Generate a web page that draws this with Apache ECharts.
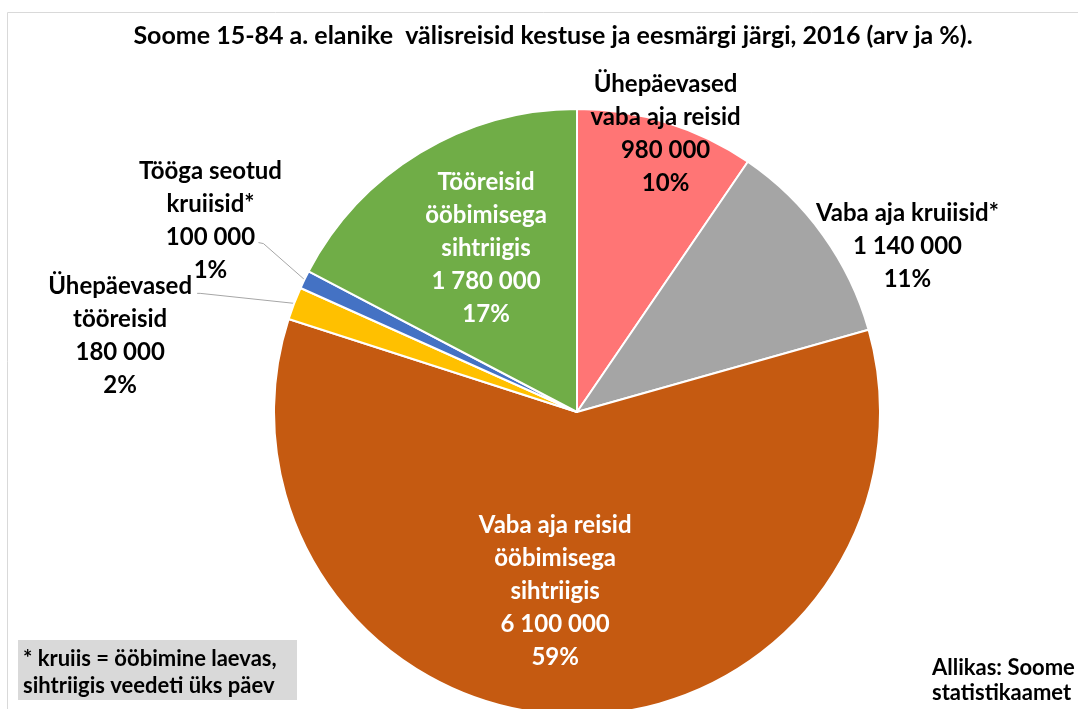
<!DOCTYPE html>
<html>
<head>
<meta charset="utf-8">
<script src="https://cdn.jsdelivr.net/npm/echarts@6/dist/echarts.min.js"></script>
<style>
  html, body { margin: 0; padding: 0; background: #fff; }
  #chart { width: 1078px; height: 709px; }
</style>
</head>
<body>
<div id="chart"></div>
<script>
// andmed
var names = [
  'Ühepäevased\nvaba aja reisid',
  'Vaba aja kruiisid*',
  'Vaba aja reisid\nööbimisega\nsihtriigis',
  'Ühepäevased\ntööreisid',
  'Tööga seotud\nkruiisid*',
  'Tööreisid\nööbimisega\nsihtriigis'
];
var values = [980000, 1140000, 6100000, 180000, 100000, 1780000];
var colors = ['#FF7575', '#A5A5A5', '#C55A11', '#FFC000', '#4472C4', '#70AD47'];
var labelColors = ['#000', '#000', '#fff', '#000', '#000', '#fff'];
var labelPos = ['inside', 'inside', 'inside', 'outside', 'outside', 'inside'];
// sildi nihked (sees: nihe keskpunktist; väljas: nihe lõigu servapunktist)
var labelShift = [[43, -131], [205, -76], [-19, 25], [-174, 32], [-94, -59], [-11, -32]];
// juhtjoone murdepunktid servapunkti suhtes
var guideBends = { 3: [[-94, -10], [-97, -10]], 4: [[-41, -36], [-46, -37]] };

var FONT = 'Lato';

function fmtNum(v) {
  return String(v).replace(/\B(?=(\d{3})+(?!\d))/g, ' ');
}

var chart = echarts.init(document.getElementById('chart'));

var data = values.map(function (v, i) {
  return {
    name: names[i],
    value: v,
    itemStyle: { color: colors[i] },
    label: {
      position: labelPos[i],
      color: labelColors[i],
      offset: labelPos[i] === 'inside' ? labelShift[i] : [0, 0]
    }
  };
});

chart.setOption({
  animation: false,
  title: {
    text: 'Soome 15-84 a. elanike  välisreisid kestuse ja eesmärgi järgi, 2016 (arv ja %).',
    left: 548,
    top: 18,
    textAlign: 'center',
    textStyle: { fontFamily: FONT, fontWeight: 'bold', fontSize: 25, color: '#000' }
  },
  graphic: [
    {
      type: 'rect',
      shape: { x: 7.5, y: 12.5, width: 1100, height: 720 },
      style: { fill: 'none', stroke: '#D9D9D9', lineWidth: 1 },
      silent: true
    },
    {
      type: 'rect',
      shape: { x: 18, y: 640, width: 279, height: 60 },
      style: { fill: '#D9D9D9' },
      silent: true
    },
    {
      type: 'text',
      left: 23,
      top: 645,
      style: {
        text: '* kruiis = ööbimine laevas,\nsihtriigis veedeti üks päev',
        font: 'bold 22px ' + FONT,
        lineHeight: 27,
        fill: '#000'
      }
    },
    {
      type: 'text',
      left: 932,
      top: 655,
      style: {
        text: 'Allikas: Soome\nstatistikaamet',
        font: 'bold 22px ' + FONT,
        lineHeight: 25,
        fill: '#000'
      }
    }
  ],
  series: [{
    type: 'pie',
    center: [577, 412],
    radius: 303,
    startAngle: 90,
    clockwise: true,
    avoidLabelOverlap: false,
    itemStyle: { borderColor: '#fff', borderWidth: 2 },
    label: {
      fontFamily: FONT,
      fontWeight: 'bold',
      fontSize: 24,
      lineHeight: 33,
      align: 'center',
      formatter: function (p) {
        return p.name + '\n' + fmtNum(p.value) + '\n' + Math.round(p.percent) + '%';
      }
    },
    labelLine: {
      show: true,
      length: 40,
      length2: 10,
      lineStyle: { color: '#A6A6A6', width: 1 }
    },
    labelLayout: function (p) {
      var i = p.dataIndex;
      if (labelPos[i] !== 'outside' || !p.labelLinePoints) return {};
      var a = p.labelLinePoints[0];
      var pts = [[a[0], a[1]]].concat(guideBends[i].map(function (b) {
        return [a[0] + b[0], a[1] + b[1]];
      }));
      return {
        x: a[0] + labelShift[i][0],
        y: a[1] + labelShift[i][1],
        align: 'center',
        verticalAlign: 'middle',
        labelLinePoints: pts
      };
    },
    data: data
  }]
});
</script>
</body>
</html>
